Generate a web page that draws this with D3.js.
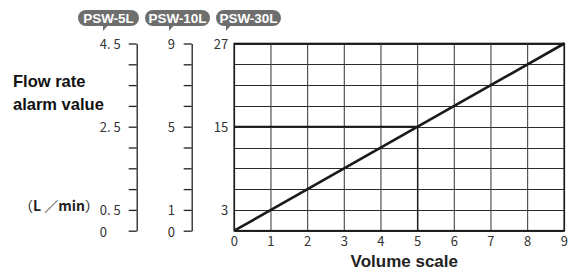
<!DOCTYPE html>
<html>
<head>
<meta charset="utf-8">
<script src="https://cdn.jsdelivr.net/npm/d3@7"></script>
<style>
	body { margin: 0; background: #fff; }
	text { font-family: "Liberation Sans", Arial, sans-serif; }
	.tick-label { font-family: "Noto Sans CJK JP", "Liberation Sans", sans-serif; font-size: 13px; fill: #333; }
</style>
</head>
<body>
<div id="chart"></div>
<script>
var models = ["PSW-5L", "PSW-10L", "PSW-30L"],
	modelMax = [4.5, 9, 27],
	modelStep = [0.5, 1, 3],
	labels5L = [4.5, 2.5, 0.5, 0],
	labels10L = [9, 5, 1, 0],
	labels30L = [27, 15, 3],
	volumeTicks = [0, 1, 2, 3, 4, 5, 6, 7, 8, 9],
	lineVolume = [0, 9],
	lineFlow30L = [0, 27],
	guideVolume = 5,
	guideFlow30L = 15;

(function() {
	"use strict";

	var chartWidth = 571,
		chartHeight = 272,
		plot = { left: 234.3, right: 564.3, top: 43.5, bottom: 230.7 },
		axisX = [136.7, 191.7, 234.3],
		badgeX = [78, 145, 216],
		badgeW = [61, 65, 65],
		tailOffset = [25, 24, 10],
		svg,
		x,
		yScales = [];

	svg = d3.select("#chart")
		.append("svg")
		.attr("width", chartWidth)
		.attr("height", chartHeight);

	x = d3.scaleLinear().domain([0, 9]).range([plot.left, plot.right]);
	models.forEach(function(m, i) {
		yScales.push(d3.scaleLinear().domain([0, modelMax[i]]).range([plot.bottom, plot.top]));
	});
	var y = yScales[2];

	// grid
	var gridG = svg.append("g");
	gridG.selectAll(".hgrid")
		.data(d3.range(0, modelMax[2] + 0.01, modelStep[2]))
		.enter().append("line")
		.attr("class", "hgrid")
		.attr("x1", x(0)).attr("x2", x(9))
		.attr("y1", function(d) { return Math.round(y(d)) + 0.5; })
		.attr("y2", function(d) { return Math.round(y(d)) + 0.5; })
		.style("stroke", "#2a2a2a")
		.style("stroke-width", 1);
	gridG.selectAll(".vgrid")
		.data(volumeTicks)
		.enter().append("line")
		.attr("class", "vgrid")
		.attr("x1", function(d) { return x(d); })
		.attr("x2", function(d) { return x(d); })
		.attr("y1", y(0)).attr("y2", y(modelMax[2]))
		.style("stroke", "#444")
		.style("stroke-width", 1.1);

	// reading guide at 15
	gridG.append("line")
		.attr("x1", x(0)).attr("x2", x(guideVolume))
		.attr("y1", y(guideFlow30L)).attr("y2", y(guideFlow30L))
		.style("stroke", "#1a1a1a").style("stroke-width", 1.8);
	gridG.append("line")
		.attr("x1", x(guideVolume)).attr("x2", x(guideVolume))
		.attr("y1", y(0)).attr("y2", y(guideFlow30L))
		.style("stroke", "#1a1a1a").style("stroke-width", 1.4);

	// frame
	svg.append("rect")
		.attr("x", x(0)).attr("y", y(modelMax[2]))
		.attr("width", x(9) - x(0))
		.attr("height", y(0) - y(modelMax[2]))
		.style("fill", "none")
		.style("stroke", "#1a1a1a")
		.style("stroke-width", 1.6);

	// diagonal line
	svg.append("path")
		.datum(d3.zip(lineVolume, lineFlow30L))
		.attr("d", d3.line()
			.x(function(d) { return x(d[0]); })
			.y(function(d) { return y(d[1]); }))
		.style("fill", "none")
		.style("stroke", "#1a1a1a")
		.style("stroke-width", 2.6);

	// left axes for 5L and 10L
	[0, 1].forEach(function(i) {
		var axisG = svg.append("g")
			.attr("transform", "translate(" + axisX[i] + ",0)")
			.call(d3.axisLeft(yScales[i])
				.tickValues(d3.range(0, modelMax[i] + 0.001, modelStep[i]))
				.tickSize(8)
				.tickSizeOuter(0)
				.tickFormat(""));
		axisG.selectAll("path, line").style("stroke", "#222").style("stroke-width", 1.3);
	});

	function fmt(v) {
		return String(v).replace(".", ". ");
	}

	// tick labels
	svg.selectAll(".l5")
		.data(labels5L)
		.enter().append("text")
		.attr("class", "tick-label")
		.attr("x", axisX[0] - 37)
		.attr("y", function(d) { return yScales[0](d) + (d === 0 ? 2 : 1); })
		.attr("dy", "0.35em")
		.text(fmt);
	svg.selectAll(".l10")
		.data(labels10L)
		.enter().append("text")
		.attr("class", "tick-label")
		.attr("x", axisX[1] - 24)
		.attr("y", function(d) { return yScales[1](d) + (d === 0 ? 2 : 1); })
		.attr("dy", "0.35em")
		.text(fmt);
	svg.selectAll(".l30")
		.data(labels30L)
		.enter().append("text")
		.attr("class", "tick-label")
		.attr("x", axisX[2] - 6)
		.attr("y", function(d) { return y(d) + 1; })
		.attr("dy", "0.35em")
		.attr("text-anchor", "end")
		.text(fmt);
	svg.selectAll(".lx")
		.data(volumeTicks)
		.enter().append("text")
		.attr("class", "tick-label")
		.attr("x", function(d) { return x(d); })
		.attr("y", y(0) + 11)
		.attr("dy", "0.35em")
		.attr("text-anchor", "middle")
		.text(fmt);

	// model badges
	models.forEach(function(m, i) {
		var g = svg.append("g").attr("transform", "translate(" + badgeX[i] + ",10)");
		g.append("rect")
			.attr("width", badgeW[i]).attr("height", 16)
			.attr("rx", 8)
			.style("fill", "#6e6e6e");
		g.append("path")
			.attr("d", "M" + tailOffset[i] + ",14 L" + (tailOffset[i] + 6) + ",14 L" + tailOffset[i] + ",21 Z")
			.style("fill", "#6e6e6e");
		g.append("text")
			.attr("x", badgeW[i] / 2).attr("y", 13)
			.attr("text-anchor", "middle")
			.style("font-size", "13.5px")
			.style("font-weight", "bold")
			.style("fill", "#fff")
			.text(m);
	});

	// axis titles
	var title = svg.append("text")
		.style("font-size", "16.5px")
		.style("font-weight", "bold")
		.style("fill", "#111");
	title.append("tspan").attr("x", 13).attr("y", 87).text("Flow rate");
	title.append("tspan").attr("x", 13).attr("y", 109.5).text("alarm value");

	var unit = svg.append("text")
		.attr("x", 19).attr("y", 210.5)
		.style("font-family", "'Noto Sans CJK JP', sans-serif")
		.style("font-size", "14px")
		.style("fill", "#222");
	unit.append("tspan").text("（");
	unit.append("tspan").style("font-weight", "bold").text("L ");
	unit.append("tspan").text("／");
	unit.append("tspan").style("font-weight", "bold").text("min");
	unit.append("tspan").text("）");

	svg.append("text")
		.attr("x", (plot.left + plot.right) / 2 + 5)
		.attr("y", 266.5)
		.attr("text-anchor", "middle")
		.style("font-size", "17px")
		.style("font-weight", "bold")
		.style("fill", "#222")
		.text("Volume scale");
})();
</script>
</body>
</html>
